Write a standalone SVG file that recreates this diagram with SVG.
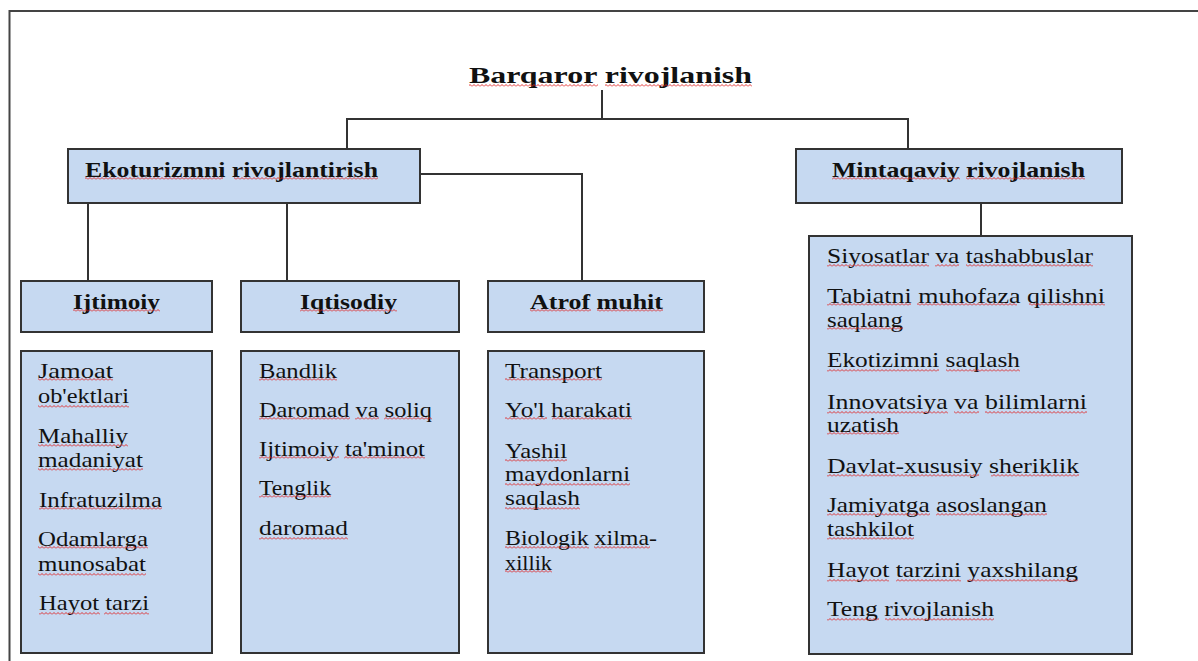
<svg xmlns="http://www.w3.org/2000/svg" width="1198" height="661" viewBox="0 0 1198 661">
<defs>
<pattern id="sq" patternUnits="userSpaceOnUse" width="4" height="3">
<path d="M0,2.5 L2,0.5 L4,2.5" fill="none" stroke="#e02020" stroke-width="0.9"/>
</pattern>
</defs>
<style>
.frame{fill:none;stroke:#444;stroke-width:2}
.box{fill:#C6D9F1;stroke:#333;stroke-width:2}
.conn{fill:none;stroke:#333;stroke-width:2}
.sq{fill:url(#sq)}
text{font-family:"Liberation Serif","Times New Roman",serif;fill:#111}
.title{font-size:24px;font-weight:bold}
.hd{font-size:22px;font-weight:bold}
.it{font-size:21px}
</style>
<rect class="frame" x="9.5" y="11" width="1200" height="700"/>
<g id="connectors">
<path class="conn" d="M602,90 V119"/>
<path class="conn" d="M347,149 V119 H908 V149"/>
<path class="conn" d="M420,174 H582 V281"/>
<path class="conn" d="M88,203 V281"/>
<path class="conn" d="M287,203 V281"/>
<path class="conn" d="M981,203 V236"/>
</g>
<g id="barqaror">
<text class="title" x="469" y="83" textLength="283" lengthAdjust="spacingAndGlyphs">Barqaror rivojlanish</text>
<rect class="sq" x="469" y="84" width="129" height="3"/>
<rect class="sq" x="605" y="84" width="147" height="3"/>
</g>
<g id="ekoturizm">
<rect class="box" x="68" y="149" width="352" height="54"/>
<text class="hd" x="85" y="177" textLength="293" lengthAdjust="spacingAndGlyphs">Ekoturizmni  rivojlantirish</text>
<rect class="sq" x="85" y="177" width="138" height="3"/>
<rect class="sq" x="234" y="177" width="144" height="3"/>
</g>
<g id="mintaqaviy">
<rect class="box" x="796" y="149" width="326" height="54"/>
<text class="hd" x="832" y="177" textLength="253" lengthAdjust="spacingAndGlyphs">Mintaqaviy rivojlanish</text>
<rect class="sq" x="832" y="177" width="128" height="3"/>
<rect class="sq" x="966" y="177" width="119" height="3"/>
</g>
<g id="ijtimoiy">
<rect class="box" x="21" y="281" width="191" height="51"/>
<text class="hd" x="73" y="309" textLength="87" lengthAdjust="spacingAndGlyphs">Ijtimoiy</text>
<rect class="sq" x="73" y="309" width="87" height="3"/>
</g>
<g id="iqtisodiy">
<rect class="box" x="241" y="281" width="218" height="51"/>
<text class="hd" x="300" y="309" textLength="97" lengthAdjust="spacingAndGlyphs">Iqtisodiy</text>
<rect class="sq" x="300" y="309" width="97" height="3"/>
</g>
<g id="atrof">
<rect class="box" x="488" y="281" width="216" height="51"/>
<text class="hd" x="530" y="309" textLength="133" lengthAdjust="spacingAndGlyphs">Atrof muhit</text>
<rect class="sq" x="530" y="309" width="61" height="3"/>
<rect class="sq" x="597" y="309" width="66" height="3"/>
</g>
<g id="ijtimoiy-list">
<rect class="box" x="21" y="351" width="191" height="302"/>
<text class="it" x="38" y="378" textLength="75" lengthAdjust="spacingAndGlyphs">Jamoat</text>
<text class="it" x="38" y="403" textLength="91" lengthAdjust="spacingAndGlyphs">ob'ektlari</text>
<text class="it" x="38" y="443" textLength="90" lengthAdjust="spacingAndGlyphs">Mahalliy</text>
<text class="it" x="38" y="467" textLength="105" lengthAdjust="spacingAndGlyphs">madaniyat</text>
<text class="it" x="39" y="507" textLength="123" lengthAdjust="spacingAndGlyphs">Infratuzilma</text>
<text class="it" x="38" y="546" textLength="110" lengthAdjust="spacingAndGlyphs">Odamlarga</text>
<text class="it" x="38" y="571" textLength="108" lengthAdjust="spacingAndGlyphs">munosabat</text>
<text class="it" x="39" y="610" textLength="110" lengthAdjust="spacingAndGlyphs">Hayot tarzi</text>
<rect class="sq" x="38" y="378" width="75" height="3"/>
<rect class="sq" x="38" y="405" width="91" height="3"/>
<rect class="sq" x="38" y="444" width="90" height="3"/>
<rect class="sq" x="38" y="468" width="105" height="3"/>
<rect class="sq" x="39" y="507" width="123" height="3"/>
<rect class="sq" x="38" y="546" width="110" height="3"/>
<rect class="sq" x="38" y="573" width="108" height="3"/>
<rect class="sq" x="39" y="612" width="61" height="3"/>
<rect class="sq" x="104" y="612" width="45" height="3"/>
</g>
<g id="iqtisodiy-list">
<rect class="box" x="241" y="351" width="218" height="302"/>
<text class="it" x="259" y="378" textLength="78" lengthAdjust="spacingAndGlyphs">Bandlik</text>
<text class="it" x="259" y="417" textLength="173" lengthAdjust="spacingAndGlyphs">Daromad va soliq</text>
<text class="it" x="259" y="456" textLength="166" lengthAdjust="spacingAndGlyphs">Ijtimoiy ta'minot</text>
<text class="it" x="259" y="495" textLength="72" lengthAdjust="spacingAndGlyphs">Tenglik</text>
<text class="it" x="259" y="535" textLength="89" lengthAdjust="spacingAndGlyphs">daromad</text>
<rect class="sq" x="259" y="378" width="78" height="3"/>
<rect class="sq" x="259" y="417" width="91" height="3"/>
<rect class="sq" x="355" y="417" width="24" height="3"/>
<rect class="sq" x="384" y="417" width="48" height="3"/>
<rect class="sq" x="259" y="456" width="80" height="3"/>
<rect class="sq" x="344" y="456" width="81" height="3"/>
<rect class="sq" x="259" y="495" width="72" height="3"/>
<rect class="sq" x="259" y="537" width="89" height="3"/>
</g>
<g id="atrof-list">
<rect class="box" x="488" y="351" width="216" height="302"/>
<text class="it" x="505" y="378" textLength="97" lengthAdjust="spacingAndGlyphs">Transport</text>
<text class="it" x="505" y="417" textLength="127" lengthAdjust="spacingAndGlyphs">Yo'l harakati</text>
<text class="it" x="505" y="458" textLength="62" lengthAdjust="spacingAndGlyphs">Yashil</text>
<text class="it" x="505" y="481" textLength="125" lengthAdjust="spacingAndGlyphs">maydonlarni</text>
<text class="it" x="505" y="505" textLength="75" lengthAdjust="spacingAndGlyphs">saqlash</text>
<text class="it" x="505" y="545" textLength="152" lengthAdjust="spacingAndGlyphs">Biologik xilma-</text>
<text class="it" x="505" y="570" textLength="47" lengthAdjust="spacingAndGlyphs">xillik</text>
<rect class="sq" x="505" y="378" width="97" height="3"/>
<rect class="sq" x="505" y="417" width="42" height="3"/>
<rect class="sq" x="552" y="417" width="80" height="3"/>
<rect class="sq" x="505" y="459" width="62" height="3"/>
<rect class="sq" x="505" y="483" width="125" height="3"/>
<rect class="sq" x="505" y="507" width="75" height="3"/>
<rect class="sq" x="505" y="546" width="84" height="3"/>
<rect class="sq" x="594" y="546" width="56" height="3"/>
<rect class="sq" x="505" y="570" width="47" height="3"/>
</g>
<g id="mintaqaviy-list">
<rect class="box" x="809" y="236" width="323" height="418"/>
<text class="it" x="827" y="263" textLength="266" lengthAdjust="spacingAndGlyphs">Siyosatlar va tashabbuslar</text>
<text class="it" x="827" y="303" textLength="278" lengthAdjust="spacingAndGlyphs">Tabiatni muhofaza  qilishni</text>
<text class="it" x="827" y="327" textLength="76" lengthAdjust="spacingAndGlyphs">saqlang</text>
<text class="it" x="827" y="367" textLength="193" lengthAdjust="spacingAndGlyphs">Ekotizimni saqlash</text>
<text class="it" x="827" y="409" textLength="260" lengthAdjust="spacingAndGlyphs">Innovatsiya va bilimlarni</text>
<text class="it" x="827" y="432" textLength="72" lengthAdjust="spacingAndGlyphs">uzatish</text>
<text class="it" x="827" y="473" textLength="252" lengthAdjust="spacingAndGlyphs">Davlat-xususiy  sheriklik</text>
<text class="it" x="827" y="512" textLength="220" lengthAdjust="spacingAndGlyphs">Jamiyatga asoslangan</text>
<text class="it" x="827" y="536" textLength="87" lengthAdjust="spacingAndGlyphs">tashkilot</text>
<text class="it" x="827" y="577" textLength="251" lengthAdjust="spacingAndGlyphs">Hayot tarzini yaxshilang</text>
<text class="it" x="827" y="616" textLength="167" lengthAdjust="spacingAndGlyphs">Teng rivojlanish</text>
<rect class="sq" x="827" y="264" width="102" height="3"/>
<rect class="sq" x="935" y="264" width="24" height="3"/>
<rect class="sq" x="966" y="264" width="127" height="3"/>
<rect class="sq" x="827" y="303" width="84" height="3"/>
<rect class="sq" x="917" y="303" width="100" height="3"/>
<rect class="sq" x="1029" y="303" width="76" height="3"/>
<rect class="sq" x="827" y="327" width="76" height="3"/>
<rect class="sq" x="827" y="369" width="112" height="3"/>
<rect class="sq" x="946" y="369" width="74" height="3"/>
<rect class="sq" x="827" y="411" width="121" height="3"/>
<rect class="sq" x="954" y="411" width="25" height="3"/>
<rect class="sq" x="985" y="411" width="102" height="3"/>
<rect class="sq" x="827" y="432" width="72" height="3"/>
<rect class="sq" x="827" y="474" width="152" height="3"/>
<rect class="sq" x="991" y="474" width="88" height="3"/>
<rect class="sq" x="827" y="513" width="103" height="3"/>
<rect class="sq" x="936" y="513" width="111" height="3"/>
<rect class="sq" x="827" y="537" width="87" height="3"/>
<rect class="sq" x="827" y="579" width="62" height="3"/>
<rect class="sq" x="896" y="579" width="65" height="3"/>
<rect class="sq" x="967" y="579" width="111" height="3"/>
<rect class="sq" x="827" y="618" width="52" height="3"/>
<rect class="sq" x="885" y="618" width="109" height="3"/>
</g>
</svg>
